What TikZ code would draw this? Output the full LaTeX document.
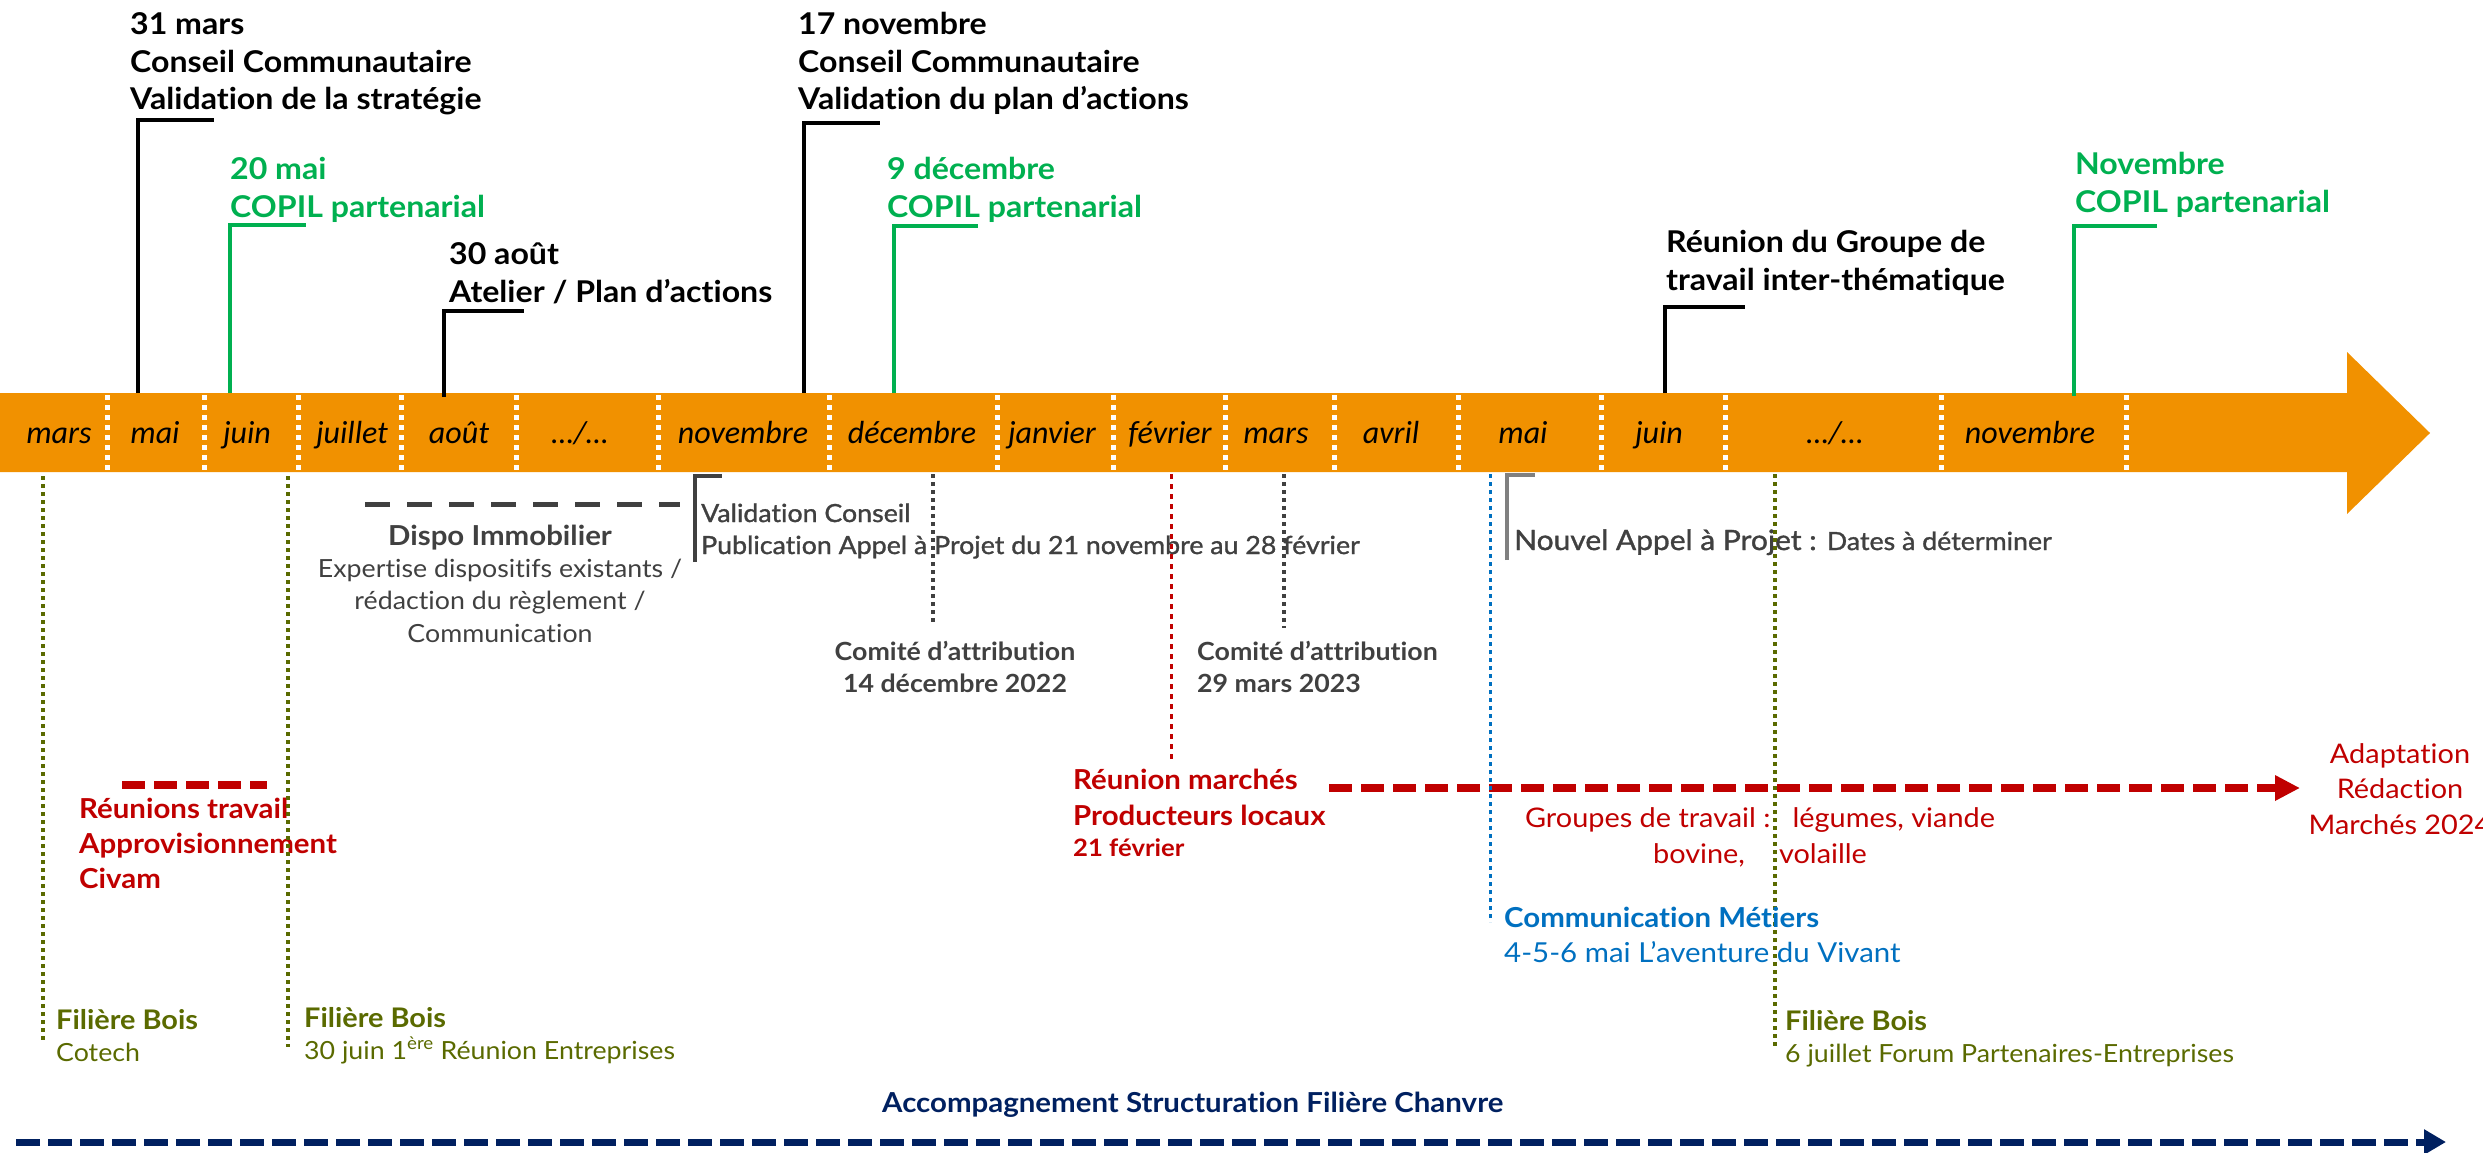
\documentclass[tikz,border=0pt]{standalone}
\usepackage{fontspec}
\setmainfont{Lato}[FakeStretch=1.07, Ligatures=NoCommon]
\newfontfamily\monthfont{Carlito}
\newfontfamily\semib{Lato}[FakeStretch=1.07, FakeBold=1.2, Ligatures=NoCommon]
\usetikzlibrary{arrows.meta}
\definecolor{band}{HTML}{F19100}
\definecolor{cgreen}{HTML}{00B050}
\definecolor{cred}{HTML}{C00000}
\definecolor{cgray}{HTML}{404040}
\definecolor{lgray}{HTML}{808080}
\definecolor{colive}{HTML}{5A6A00}
\definecolor{cblue}{HTML}{0070C0}
\definecolor{cnavy}{HTML}{002060}
\begin{document}
\begin{tikzpicture}[x=1pt,y=-1pt,
  lead/.style={line width=3.5pt},
  sepline/.style={white, line width=5pt, dash pattern=on 5pt off 5pt},
  month/.style={font=\monthfont\fontsize{32}{36}\selectfont\itshape, inner sep=0pt, anchor=base},
  toplbl/.style={font=\fontsize{30}{37.5}\selectfont\bfseries, inner sep=0pt, anchor=base west, align=left},
  grytxt/.style={text=cgray, inner sep=0pt, font=\fontsize{25}{32.3}\selectfont},
  bracket/.style={line width=4pt},
  dotline/.style={line width=3.5pt, dash pattern=on 4pt off 4pt},
  bigdash/.style={line width=8pt, dash pattern=on 23pt off 9pt},
  redtxt/.style={text=cred, inner sep=0pt},
  olivetxt/.style={text=colive, inner sep=0pt, anchor=base west, align=left, font=\fontsize{25}{32}\selectfont}
]
\useasboundingbox (0,0) rectangle (2483,1153);

% ---------- band ----------
\fill[band] (0,393) -- (2347,393) -- (2347,352) -- (2430,433) -- (2347,514) -- (2347,472) -- (0,472) -- cycle;
\foreach \x in {107,204,298,401,516,658,829,997,1113,1225,1334,1458,1601,1725,1941,2126}
  \draw[sepline] (\x,395) -- (\x,472);

\node[month] (m1) at (59,443) {mars};
\node[month] (m2) at (155,443) {mai};
\node[month] (m3) at (247,443) {juin};
\node[month] (m4) at (352,443) {juillet};
\node[month] (m5) at (459,443) {août};
\node[month] (m6) at (580,443) {…/…};
\node[month] (m7) at (743,443) {novembre};
\node[month] (m8) at (912,443) {décembre};
\node[month] (m9) at (1052,443) {janvier};
\node[month] (m10) at (1170,443) {février};
\node[month] (m11) at (1276,443) {mars};
\node[month] (m12) at (1391,443) {avril};
\node[month] (m13) at (1523,443) {mai};
\node[month] (m14) at (1659,443) {juin};
\node[month] (m15) at (1835,443) {…/…};
\node[month] (m16) at (2030,443) {novembre};

% ---------- top labels (anchor = baseline of last line) ----------
\node[toplbl] (t1) at (130,110) {31 mars\\Conseil Communautaire\\Validation de la stratégie};
\node[toplbl, text=cgreen] (t2) at (230,217) {20 mai\\COPIL partenarial};
\node[toplbl] (t3) at (449,302) {30 août\\Atelier / Plan d’actions};
\node[toplbl] (t4) at (798,110) {17 novembre\\Conseil Communautaire\\Validation du plan d’actions};
\node[toplbl, text=cgreen] (t5) at (887,217) {9 décembre\\COPIL partenarial};
\node[toplbl] (t6) at (1666,290) {Réunion du Groupe de\\travail inter-thématique};
\node[toplbl, text=cgreen] (t7) at (2075,212) {Novembre\\COPIL partenarial};

\coordinate (b1) at (138,393);  \coordinate (h1) at (214,120);
\coordinate (b2) at (230,393);  \coordinate (h2) at (306,225);
\coordinate (b3) at (444,397);  \coordinate (h3) at (524,311);
\coordinate (b4) at (804,393);  \coordinate (h4) at (880,123);
\coordinate (b5) at (894,393);  \coordinate (h5) at (978,226);
\coordinate (b6) at (1665,393); \coordinate (h6) at (1745,307);
\coordinate (b7) at (2074,396); \coordinate (h7) at (2157,226);
\draw[lead] (b1) |- (h1);
\draw[lead, cgreen] (b2) |- (h2);
\draw[lead] (b3) |- (h3);
\draw[lead] (b4) |- (h4);
\draw[lead, cgreen] (b5) |- (h5);
\draw[lead] (b6) |- (h6);
\draw[lead, cgreen] (b7) |- (h7);

% ---------- Dispo Immobilier ----------
\coordinate (d1) at (365,504); \coordinate (d2) at (680,504);
\draw[cgray, line width=5pt, dash pattern=on 25pt off 17pt] (d1) -- (d2);
\node[grytxt, anchor=base, align=center] (dispo) at (500,642)
  {{\bfseries\fontsize{27.5}{33}\selectfont Dispo Immobilier}\\Expertise dispositifs existants /\\rédaction du règlement /\\Communication};

% ---------- Validation Conseil ----------
\coordinate (v1) at (695,562); \coordinate (v2) at (722,476);
\draw[bracket, cgray] (v1) |- (v2);
\node[grytxt, anchor=base west, align=left, font=\semib\fontsize{25}{32}\selectfont] (valid) at (701,554)
  {Validation Conseil\\Publication Appel à Projet du 21 novembre au 28 février};

% ---------- Comités ----------
\coordinate (c1a) at (933,474); \coordinate (c1b) at (933,625);
\coordinate (c2a) at (1284,474); \coordinate (c2b) at (1284,628);
\draw[dotline, cgray] (c1a) -- (c1b);
\draw[dotline, cgray] (c2a) -- (c2b);
\node[grytxt, anchor=base, align=center, font=\bfseries\fontsize{25}{32}\selectfont] (com1) at (955,692)
  {Comité d’attribution\\14 décembre 2022};
\node[grytxt, anchor=base west, align=left, font=\bfseries\fontsize{25}{32}\selectfont] (com2) at (1197,692)
  {Comité d’attribution\\29 mars 2023};

% ---------- Nouvel Appel à Projet ----------
\coordinate (n1) at (1507,560); \coordinate (n2) at (1535,475);
\draw[bracket, lgray] (n1) |- (n2);
\node[grytxt, anchor=base west, font=\semib\fontsize{28}{32}\selectfont] (nouvel) at (1514,550)
  {Nouvel Appel à Projet : {\fontsize{25}{28}\selectfont Dates à déterminer}};

% ---------- red: marchés ----------
\coordinate (r1a) at (1171,474); \coordinate (r1b) at (1171,762);
\draw[cred, line width=3pt, dash pattern=on 5pt off 5pt] (r1a) -- (r1b);
\node[redtxt, anchor=base west, align=left, font=\bfseries\fontsize{27.5}{36}\selectfont] (marches) at (1073,856)
  {Réunion marchés\\Producteurs locaux\\[-5pt]{\fontsize{24}{28}\selectfont 21 février}};
\coordinate (ra) at (1329,788); \coordinate (rb) at (2300,788);
\draw[cred, bigdash, -{Triangle[length=25pt,width=24pt]}] (ra) -- (rb);
\node[redtxt, anchor=base, align=center, font=\fontsize{27}{35.5}\selectfont] (adapt) at (2400,834)
  {Adaptation\\Rédaction\\Marchés 2024};
\node[redtxt, anchor=base, align=center, font=\fontsize{27}{36}\selectfont] (groupes) at (1760,863)
  {Groupes de travail :\hspace{22pt}légumes, viande\\bovine,\hspace{34pt}volaille};

% ---------- red: Réunions travail ----------
\coordinate (rt1) at (122,785); \coordinate (rt2) at (267,785);
\draw[cred, bigdash] (rt1) -- (rt2);
\node[redtxt, anchor=base west, align=left, font=\bfseries\fontsize{27.5}{35}\selectfont] (rtrav) at (79,888)
  {Réunions travail\\Approvisionnement\\Civam};

% ---------- olive: Filière Bois ----------
\coordinate (o1a) at (43,476); \coordinate (o1b) at (43,1043);
\coordinate (o2a) at (288,476); \coordinate (o2b) at (288,1047);
\coordinate (o3a) at (1775,474); \coordinate (o3b) at (1775,1048);
\draw[dotline, colive] (o1a) -- (o1b);
\draw[dotline, colive] (o2a) -- (o2b);
\draw[dotline, colive] (o3a) -- (o3b);
\node[olivetxt] (fb1) at (56,1061) {{\bfseries\fontsize{27}{32}\selectfont Filière Bois}\\Cotech};
\node[olivetxt] (fb2) at (304,1059) {{\bfseries\fontsize{27}{32}\selectfont Filière Bois}\\30 juin 1\textsuperscript{ère} Réunion Entreprises};
\node[olivetxt] (fb3) at (1785,1062) {{\bfseries\fontsize{27}{32}\selectfont Filière Bois}\\6 juillet Forum Partenaires-Entreprises};

% ---------- blue: Communication Métiers ----------
\coordinate (bl1) at (1490,474); \coordinate (bl2) at (1490,922);
\draw[dotline, cblue, line width=3pt] (bl1) -- (bl2);
\node[inner sep=0pt, text=cblue, anchor=base west, align=left, font=\fontsize{27.5}{35}\selectfont] (comm) at (1504,962)
  {\textbf{Communication Métiers}\\4-5-6 mai L’aventure du Vivant};

% ---------- navy: Chanvre ----------
\coordinate (na) at (16,1142); \coordinate (nb) at (2446,1142);
\draw[cnavy, line width=7pt, dash pattern=on 23.5pt off 8.5pt, -{Triangle[length=22pt,width=24pt]}] (na) -- (nb);
\node[inner sep=0pt, text=cnavy, anchor=base west, font=\bfseries\fontsize{27.5}{32}\selectfont] (chanvre) at (882,1112)
  {Accompagnement Structuration Filière Chanvre};
\end{tikzpicture}
\end{document}
